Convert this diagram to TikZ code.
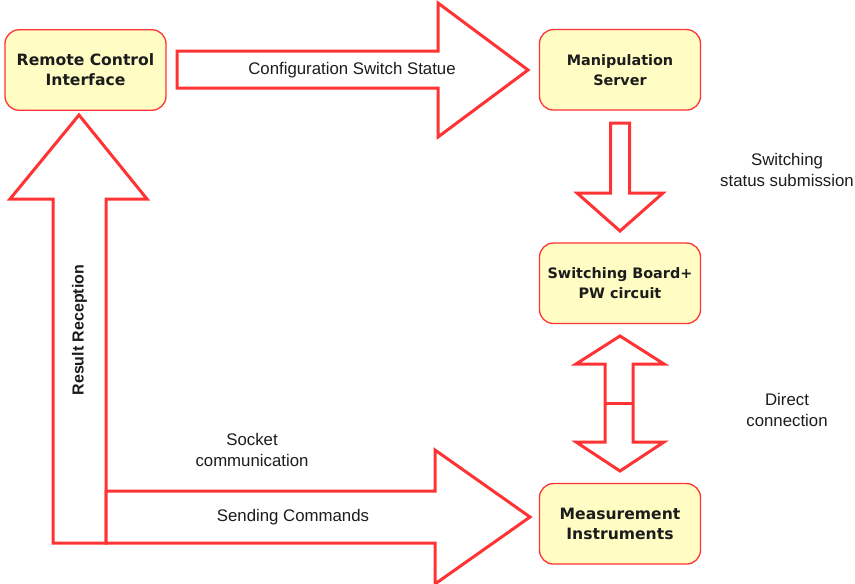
\documentclass[tikz,border=0pt]{standalone}
\usepackage{fontspec}
\setmainfont{Liberation Sans}
\newfontfamily\boxfont{DejaVu Sans}
\definecolor{flowred}{HTML}{FF3333}
\definecolor{boxfill}{HTML}{FFFDC4}
\definecolor{ink}{HTML}{1C1C1C}
\tikzset{
  unit/.style={x=1pt,y=-1pt},
  block/.style={draw=flowred,line width=1.3pt,fill=boxfill,rounded corners=14pt,
    minimum width=161pt,minimum height=80.5pt,align=center,text=ink,inner sep=0pt},
  bigtext/.style={font=\boxfont\bfseries\fontsize{15.6}{20}\selectfont},
  smalltext/.style={font=\boxfont\bfseries\fontsize{14.4}{20}\selectfont},
  fatarrow/.style={draw=flowred,line width=3pt,fill=white,line join=miter},
  lbl/.style={align=center,text=ink,inner sep=0pt,font=\fontsize{16.8}{20.5}\selectfont}
}
\begin{document}
\begin{tikzpicture}[unit]
\useasboundingbox (0,0) rectangle (855,584);

% process boxes
\node[block,bigtext]   (rci)  at (85.5,70)    {Remote Control\\Interface};
\node[block,smalltext] (ms)   at (620,69.8)   {Manipulation\\Server};
\node[block,smalltext] (sb)   at (620,283.3)  {Switching Board+\\PW circuit};
\node[block,bigtext]   (mi)   at (620,523.8)  {Measurement\\Instruments};

% configuration arrow: interface -> server
\draw[fatarrow] (177,51) -- (438,51) -- (438,3) -- (528,70) -- (438,137)
  -- (438,88) -- (177,88) -- cycle;
\node[lbl] (cfg) at (352,70) {Configuration Switch Statue};

% submission arrow: server -> switching board
\draw[fatarrow] (610.5,123) -- (629.5,123) -- (629.5,193) -- (663,193)
  -- (620,231) -- (577,193) -- (610.5,193) -- cycle;
\node[lbl] (sub) at (787,170) {Switching\\status submission};

% two-way link: switching board <-> instruments
\draw[fatarrow] (620,336) -- (664,364) -- (633,364) -- (633,442) -- (664,442)
  -- (620,471) -- (576,442) -- (605,442) -- (605,364) -- (576,364) -- cycle;
\draw[flowred,line width=3pt] (605,403) -- (633,403);
\node[lbl] (dc) at (787,410) {Direct\\connection};

% result reception: back up to the interface
\draw[fatarrow] (53,543) -- (53,199) -- (10,199) -- (79,115) -- (147,199)
  -- (106,199) -- (106,543) -- cycle;
\node[lbl,rotate=90,font=\bfseries\fontsize{16}{20}\selectfont] (res) at (79.5,330) {Result Reception};

% commands: down to the instruments
\draw[fatarrow] (106,491) -- (435,491) -- (435,450) -- (530,517) -- (435,584)
  -- (435,543) -- (106,543) -- cycle;
\node[lbl] (sock) at (252,450) {Socket\\communication};
\node[lbl] (cmd) at (293,517) {Sending Commands};
\end{tikzpicture}
\end{document}
